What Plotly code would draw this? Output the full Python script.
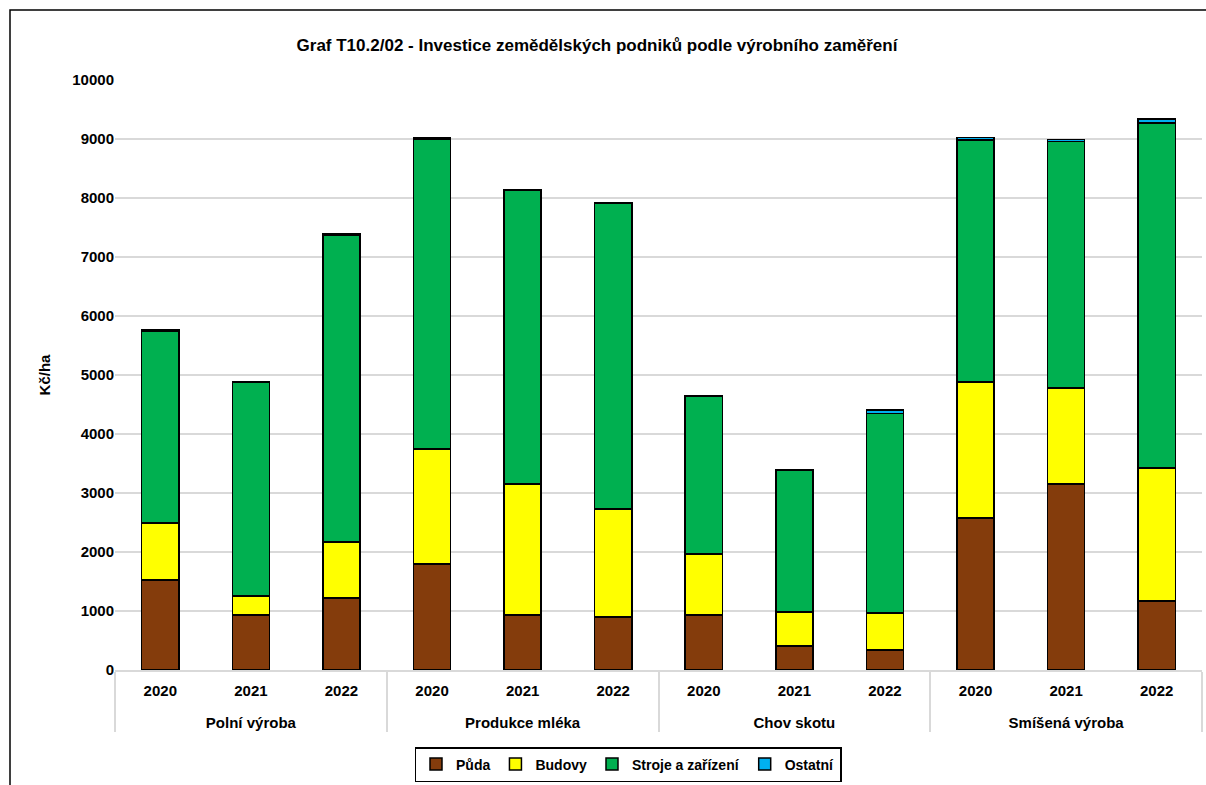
import plotly.graph_objects as go

group_names = ["Polní výroba", "Produkce mléka", "Chov skotu", "Smíšená výroba"]
year_names = ["2020", "2021", "2022"]

puda = [1525, 930, 1220, 1800, 930, 900, 930, 405, 340, 2580, 3150, 1170]
budovy = [965, 325, 950, 1950, 2220, 1830, 1035, 580, 625, 2300, 1630, 2250]
stroje = [3258, 3617, 5205, 5252, 4982, 5175, 2675, 2400, 3385, 4100, 4175, 5855]
ostatni = [15, 15, 20, 20, 15, 15, 15, 15, 60, 45, 40, 60]

series = [
    ("Půda", puda, "#843C0C"),
    ("Budovy", budovy, "#FFFF00"),
    ("Stroje a zařízení", stroje, "#00B050"),
    ("Ostatní", ostatni, "#00B0F0"),
]

# leading line break only lowers the group label
groups = ["<br>" + g for g in group_names for _ in year_names]
years = [y for _ in group_names for y in year_names]

FONT = "Arial, Liberation Sans, sans-serif"
BOLD = dict(family=FONT, size=15, color="#000000", weight="bold")

W, H = 1206, 785
L, T, R, B = 115, 80, 4, 115
PW, PH = W - L - R, H - T - B

fig = go.Figure()
for name, vals, col in series:
    fig.add_trace(go.Bar(
        x=[groups, years], y=vals, name=name,
        marker=dict(color=col, line=dict(color="#000000", width=1.5)),
    ))

fig.update_layout(
    barmode="stack",
    bargap=0.59,
    width=W, height=H,
    margin=dict(l=L, r=R, t=T, b=B, autoexpand=False),
    paper_bgcolor="white", plot_bgcolor="white",
    font=dict(family=FONT, size=14, color="#000000"),
    title=dict(
        text="Graf T10.2/02 - Investice zemědělských podniků podle výrobního zaměření",
        x=597 / W, xref="container", xanchor="center",
        y=1 - 45 / H, yanchor="middle",
        font=dict(family=FONT, size=17, color="#000000", weight="bold"),
    ),
    showlegend=True,
    legend=dict(
        orientation="h", x=(628 - L) / PW, xanchor="center", y=-(747 - 670) / PH, yanchor="top",
        bordercolor="#000000", borderwidth=1.5,
        font=dict(family=FONT, size=14, color="#000000", weight="bold"),
        traceorder="normal",
        itemwidth=30,
        tracegroupgap=0,
    ),
)

fig.update_yaxes(
    range=[0, 10000], dtick=1000, tickformat="d",
    showgrid=True, gridcolor="#D9D9D9", gridwidth=1.5,
    zeroline=False, showline=False, ticks="", ticklen=0,
    tickfont=BOLD,
    title=dict(text="Kč/ha", font=BOLD, standoff=18),
)
fig.update_xaxes(
    showline=True, linecolor="#D9D9D9", linewidth=1.5,
    showdividers=True, dividercolor="#D9D9D9", dividerwidth=1.5,
    tickfont=BOLD,
    ticks="",
    ticklabelstandoff=6,
)

# outer chart border, starting at page pixel (10, 10)
fig.add_shape(type="rect", xref="paper", yref="paper",
              x0=(10 - L) / PW, x1=(W + 20 - L) / PW,
              y0=-(H + 20 - T - PH) / PH, y1=(T + PH - 10) / PH,
              line=dict(color="#000000", width=1.5), fillcolor="rgba(0,0,0,0)", layer="below")

fig.write_html(
    "out.html",
    config={"displayModeBar": False},
    post_script="document.body.style.margin='0';document.body.style.overflow='hidden';",
)
